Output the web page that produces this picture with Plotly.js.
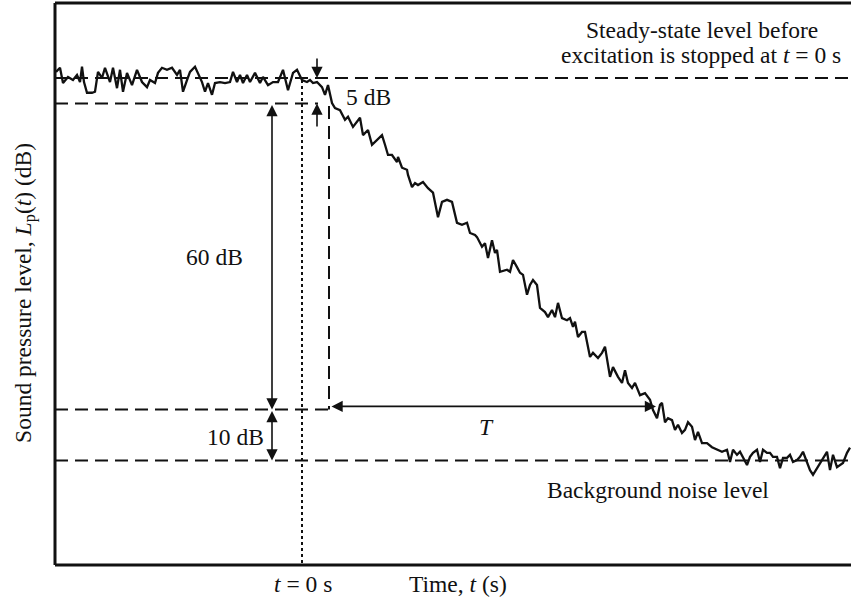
<!DOCTYPE html>
<html>
<head>
<meta charset="utf-8">
<script src="https://cdn.plot.ly/plotly-3.0.1.min.js"></script>
<style>html,body{margin:0;padding:0;background:#fff;}#chart{width:851px;height:601px;}</style>
</head>
<body>
<div id="chart"></div>
<script>
// Time (ms, arbitrary units; t = 0 where excitation stops)
const time = [-246,-242,-239,-234,-229,-225,-222,-220,-218,-215,-210,-207,-204,-200,-197,-192,-189,-185,-182,-179,-175,-170,-165,-160,-155,-152,-147,-144,-140,-135,-130,-125,-122,-119,-115,-112,-107,-104,-100,-97,-94,-90,-87,-82,-77,-72,-69,-65,-62,-59,-55,-52,-47,-42,-39,-34,-29,-24,-19,-14,-9,-5,0,5,8,11,15,20,23,26,30,33,38,43,46,51,58,61,66,70,75,80,83,86,90,95,96,100,105,106,110,113,116,121,126,131,136,140,145,150,155,160,165,168,173,175,180,183,186,190,193,195,198,205,208,211,215,218,221,225,228,231,235,238,243,246,250,253,256,260,265,268,271,273,276,280,283,288,291,296,300,303,308,311,316,320,323,326,330,333,338,343,348,351,355,358,360,363,366,370,373,376,380,383,386,390,393,396,400,405,410,415,420,425,428,431,435,438,441,445,448,451,455,458,461,465,468,471,475,478,481,485,488,491,495,498,501,505,508,511,515,518,521,525,528,531,535,538,541,545,548];
// Sound pressure level (dB)
const level = [101.2,102.0,99.0,100.2,99.6,100.6,99.2,102.2,99.2,97.1,97.1,97.3,101.2,100.0,102.0,99.2,102.0,98.0,101.6,97.3,101.0,98.6,101.6,99.2,98.2,99.6,99.0,101.0,102.0,101.6,102.0,100.6,101.6,97.3,99.6,101.2,102.2,101.0,99.2,97.3,99.0,96.7,99.0,99.2,99.0,99.2,101.2,99.2,100.6,99.0,100.6,99.2,101.0,99.0,100.2,98.6,99.2,99.2,101.6,97.6,101.0,101.6,99.6,99.2,99.6,99.0,99.2,98.2,96.7,98.6,95.1,94.1,93.7,91.8,92.4,90.4,92.2,88.8,89.8,86.9,87.8,88.8,86.9,84.9,84.9,83.5,84.5,82.4,82.0,81.0,78.6,79.4,79.0,79.6,78.4,77.5,72.7,75.7,76.1,75.7,71.6,71.2,71.6,69.6,69.2,68.8,66.9,67.6,64.7,68.2,65.7,66.3,62.0,62.4,62.0,64.3,62.9,61.8,61.4,57.5,59.4,60.4,59.4,54.9,54.1,53.1,54.5,53.1,55.9,52.9,52.5,52.9,51.2,52.2,49.2,50.2,50.2,45.3,46.1,45.1,46.1,47.3,41.4,43.3,41.4,40.2,42.7,40.2,39.2,40.2,37.8,38.2,36.9,34.9,33.3,35.9,36.3,32.5,33.3,32.9,31.0,32.0,30.4,31.0,32.5,31.6,29.0,30.6,28.4,28.4,27.6,27.1,26.7,27.1,24.7,27.1,26.1,26.7,25.7,24.1,25.7,26.5,27.1,24.7,27.1,26.5,26.5,25.7,25.7,23.5,25.5,25.5,26.1,24.7,25.1,25.7,26.7,24.5,23.1,22.2,23.5,24.7,25.5,26.7,23.1,26.1,23.7,24.1,24.5,26.5,27.5];

// Reference levels (dB)
const steadyLevel = 100;
const minus5Level = 95;
const minus65Level = 35;
const backgroundLevel = 25;

const font = 'Liberation Serif, Times New Roman, serif';
const fs = 23.5;
const black = '#111';

const dashed = {color: black, width: 2, dash: '13px,7px'};
const shapes = [
  {type:'line', xref:'x', yref:'y', x0:-247, x1:549, y0:steadyLevel, y1:steadyLevel, line:dashed},
  {type:'line', xref:'x', yref:'y', x0:-247, x1:16, y0:minus5Level, y1:minus5Level, line:dashed},
  {type:'line', xref:'x', yref:'y', x0:-247, x1:27, y0:minus65Level, y1:minus65Level, line:dashed},
  {type:'line', xref:'x', yref:'y', x0:-247, x1:549, y0:backgroundLevel, y1:backgroundLevel, line:dashed},
  {type:'line', xref:'x', yref:'y', x0:27, x1:27, y0:minus5Level-0.5, y1:minus65Level, line:dashed},
  {type:'line', xref:'x', yref:'y', x0:0, x1:0, y0:99.6, y1:4.5, line:{color:black, width:2, dash:'dot'}},
  // frame
  {type:'line', xref:'paper', yref:'paper', x0:0, x1:0, y0:0, y1:1, line:{color:black, width:3}},
  {type:'line', xref:'paper', yref:'paper', x0:0, x1:1, y0:1, y1:1, line:{color:black, width:3}},
  {type:'line', xref:'paper', yref:'paper', x0:0, x1:1, y0:0, y1:0, line:{color:black, width:3}}
];

function arrow(x, y, ax, ay, both) {
  return {x:x, y:y, ax:ax, ay:ay, xref:'x', yref:'y', axref:'x', ayref:'y', text:'', showarrow:true,
    arrowhead:2, arrowsize:1.4, arrowwidth:1.6, arrowcolor:black, standoff:0, startstandoff:0,
    arrowside: both ? 'end+start' : 'end'};
}
function label(x, y, text, opts) {
  return Object.assign({x:x, y:y, xref:'x', yref:'y', text:text, showarrow:false,
    font:{family:font, size:fs, color:black}, xanchor:'center', yanchor:'middle'}, opts||{});
}

const annotations = [
  arrow(15, steadyLevel, 15, 104.1, false),
  arrow(15, minus5Level, 15, 90.2, false),
  arrow(-30, minus65Level, -30, minus5Level, true),
  arrow(-30, backgroundLevel, -30, minus65Level, true),
  arrow(354, 35.6, 28, 35.6, true),
  label(400, 109.4, 'Steady-state level before'),
  label(399, 104.6, 'excitation is stopped at <i>t</i> = 0 s'),
  label(66, 96.3, '5 dB'),
  label(-88, 64.9, '60 dB'),
  label(-67, 29.6, '10 dB'),
  label(184, 31.6, '<i>T</i>'),
  label(356, 19.2, 'Background noise level'),
  label(1, -0.034, '<i>t</i> = 0 s', {yref:'paper'}),
  label(156, -0.034, 'Time, <i>t</i> (s)', {yref:'paper'}),
  label(-0.038, 57.8, 'Sound pressure level, <i>L</i><sub>p</sub>(<i>t</i>) (dB)', {xref:'paper', textangle:-90})
];

const trace = {x: time, y: level, mode:'lines', line:{color:black, width:2.3}, hoverinfo:'skip'};

const layout = {
  width:851, height:601,
  margin:{l:55, r:0, t:3, b:36, pad:0},
  paper_bgcolor:'#fff', plot_bgcolor:'#fff',
  showlegend:false,
  xaxis:{range:[-247,549], showgrid:false, zeroline:false, showticklabels:false, ticks:'', showline:false, fixedrange:true},
  yaxis:{range:[4.5,114.7], showgrid:false, zeroline:false, showticklabels:false, ticks:'', showline:false, fixedrange:true},
  shapes:shapes,
  annotations:annotations
};

Plotly.newPlot('chart', [trace], layout, {staticPlot:true, displayModeBar:false});
</script>
</body>
</html>
